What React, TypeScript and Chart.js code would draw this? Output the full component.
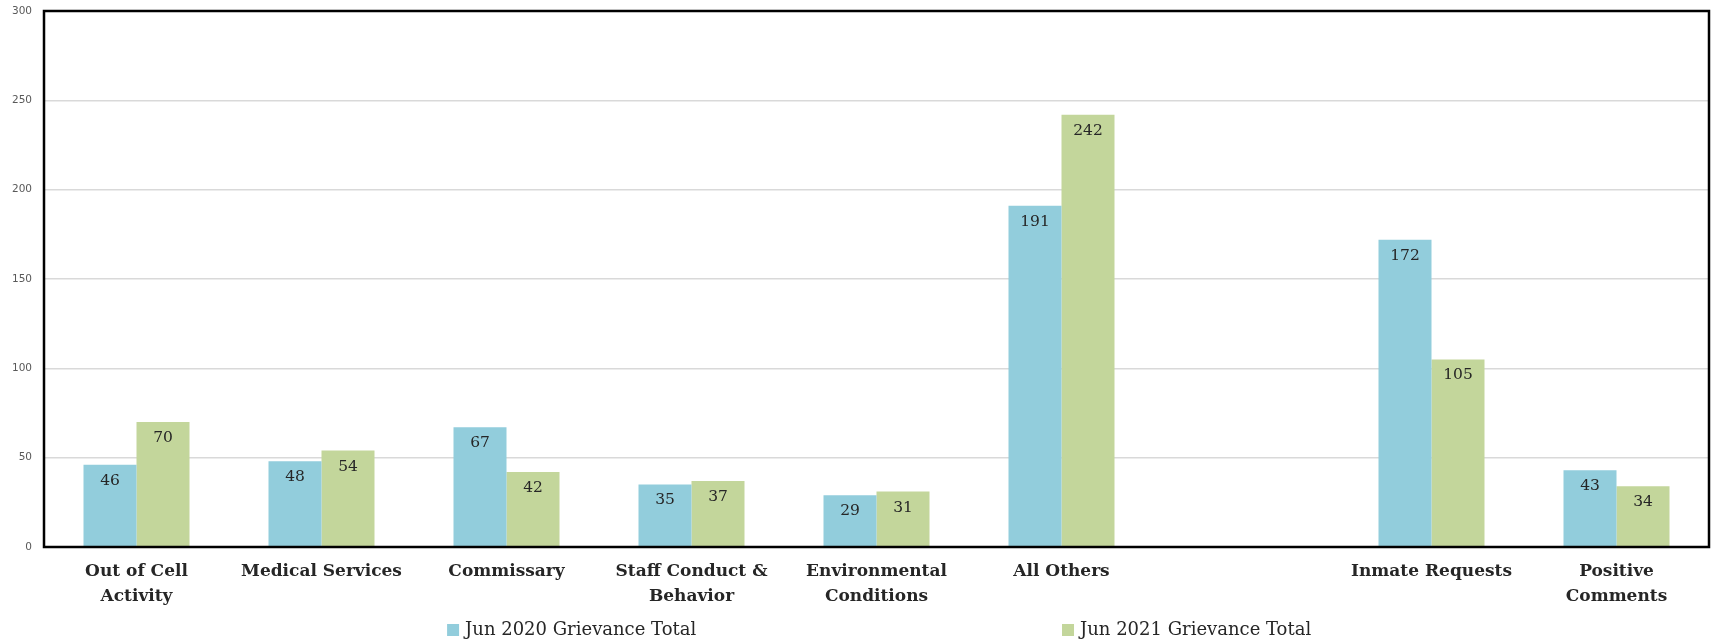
import React, { useEffect, useRef } from "react";
import { Chart, registerables } from "chart.js";

Chart.register(...registerables);

const categories: (string | string[])[] = [
  ["Out of Cell", "Activity"],
  "Medical Services",
  "Commissary",
  ["Staff Conduct &", "Behavior"],
  ["Environmental", "Conditions"],
  "All Others",
  "",
  "Inmate Requests",
  ["Positive", "Comments"],
];

const jun2020: (number | null)[] = [46, 48, 67, 35, 29, 191, null, 172, 43];
const jun2021: (number | null)[] = [70, 54, 42, 37, 31, 242, null, 105, 34];

const seriesNames = ["Jun 2020 Grievance Total", "Jun 2021 Grievance Total"];
const seriesColors = ["#92CDDC", "#C3D69B"];

const yTicks = [0, 50, 100, 150, 200, 250, 300];

const borderPlugin = {
  id: "plotBorder",
  afterDatasetsDraw(chart: any) {
    const { ctx, chartArea } = chart;
    ctx.save();
    ctx.strokeStyle = "#000000";
    ctx.lineWidth = 2.5;
    ctx.strokeRect(
      chartArea.left,
      chartArea.top,
      chartArea.right - chartArea.left,
      chartArea.bottom - chartArea.top
    );
    ctx.restore();
  },
};

const valueLabelPlugin = {
  id: "valueLabels",
  afterDatasetsDraw(chart: any) {
    const { ctx } = chart;
    ctx.save();
    ctx.font = "15.5px 'DejaVu Serif'";
    ctx.fillStyle = "#262626";
    ctx.textAlign = "center";
    ctx.textBaseline = "middle";
    chart.data.datasets.forEach((ds: any, di: number) => {
      const meta = chart.getDatasetMeta(di);
      meta.data.forEach((bar: any, i: number) => {
        const v = ds.data[i];
        if (v === null || v === undefined) return;
        ctx.fillText(String(v), bar.x, bar.y + 16);
      });
    });
    ctx.restore();
  },
};

const legendPlugin = {
  id: "customLegend",
  afterDraw(chart: any) {
    const { ctx, width } = chart;
    const starts = [0.2613 * width, 0.6207 * width];
    const y = 630;
    ctx.save();
    ctx.font = "18px 'DejaVu Serif'";
    ctx.textBaseline = "middle";
    ctx.textAlign = "left";
    chart.data.datasets.forEach((ds: any, i: number) => {
      const x = starts[i];
      ctx.fillStyle = ds.backgroundColor;
      ctx.fillRect(x, y - 6, 12, 12);
      ctx.fillStyle = "#262626";
      ctx.fillText(ds.label, x + 18, y);
    });
    ctx.restore();
  },
};

export default function App() {
  const canvasRef = useRef<HTMLCanvasElement | null>(null);

  useEffect(() => {
    if (!canvasRef.current) return;
    const chart = new Chart(canvasRef.current, {
      type: "bar",
      data: {
        labels: categories,
        datasets: [
          {
            label: seriesNames[0],
            data: jun2020,
            backgroundColor: seriesColors[0],
            categoryPercentage: 0.573,
            barPercentage: 1,
          },
          {
            label: seriesNames[1],
            data: jun2021,
            backgroundColor: seriesColors[1],
            categoryPercentage: 0.573,
            barPercentage: 1,
          },
        ],
      },
      options: {
        animation: false,
        responsive: true,
        maintainAspectRatio: false,
        layout: { padding: { top: 11, right: 2, left: 0, bottom: 0 } },
        plugins: {
          legend: { display: false },
          tooltip: { enabled: false },
        },
        scales: {
          x: {
            grid: { display: false, drawTicks: false },
            border: { display: false },
            ticks: {
              padding: 13,
              color: "#262626",
              font: { family: "'DejaVu Serif'", size: 17, weight: "bold", lineHeight: 1.42 },
              maxRotation: 0,
              autoSkip: false,
            },
            afterFit(scale: any) {
              scale.height = 93;
            },
          },
          y: {
            min: 0,
            max: 300,
            afterBuildTicks(scale: any) {
              scale.ticks = yTicks.map((v) => ({ value: v }));
            },
            grid: {
              color: "#d9d9d9",
              lineWidth: 1.5,
              drawTicks: true,
              tickLength: 12,
              tickColor: "rgba(0,0,0,0)",
            },
            border: { display: false },
            ticks: {
              padding: 0,
              color: "#595959",
              font: { family: "'DejaVu Sans'", size: 10.5 },
            },
            afterFit(scale: any) {
              scale.width = 44;
            },
          },
        },
      },
      plugins: [borderPlugin, valueLabelPlugin, legendPlugin],
    });
    return () => chart.destroy();
  }, []);

  return (
    <div
      style={{
        position: "fixed",
        left: 0,
        top: 0,
        width: "1711px",
        height: "640px",
        background: "#ffffff",
      }}
    >
      <canvas ref={canvasRef} />
    </div>
  );
}
